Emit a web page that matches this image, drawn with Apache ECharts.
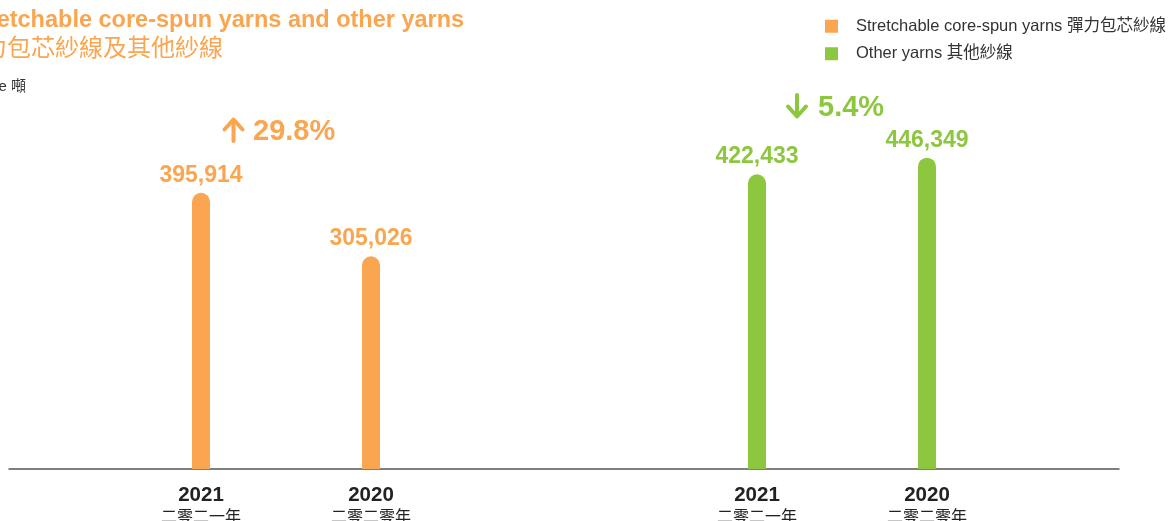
<!DOCTYPE html>
<html>
<head>
<meta charset="utf-8">
<script src="https://cdn.jsdelivr.net/npm/echarts@6/dist/echarts.min.js"></script>
<style>html,body{margin:0;padding:0;background:#fff}#c{width:1173px;height:521px}</style>
</head>
<body>
<div id="c"></div>
<script>
var years = ['2021', '2020'];
var yearsZh = ['二零二一年', '二零二零年'];
var seriesNames = ['Stretchable core-spun yarns 彈力包芯紗線', 'Other yarns 其他紗線'];
var stretchable = [395914, 305026];
var otherYarns = [422433, 446349];
var colors = ['#FAA54F', '#8DC63F'];
var yMax = 600000;

var LAT = '"Liberation Sans", Arial, sans-serif';
var CJK = '"Liberation Sans", "Noto Sans CJK TC", sans-serif';

function pct(a, b) { return (a - b) / b * 100; }
var p1 = pct(stretchable[0], stretchable[1]);
var p2 = pct(otherYarns[0], otherYarns[1]);

function catLabels(i) { return '{y|' + years[i] + '}\n{c|' + yearsZh[i] + '}'; }

var gridTop = 50.5, gridBottom = 52;
function xAxisCfg(idx) {
  return {
    type: 'category', gridIndex: idx, data: years,
    axisLine: { show: false }, axisTick: { show: false },
    axisLabel: {
      margin: 14,
      formatter: function (v, i) { return catLabels(i); },
      rich: {
        y: { fontFamily: LAT, fontWeight: 'bold', fontSize: 20.5, color: '#222', lineHeight: 24 },
        c: { fontFamily: CJK, fontSize: 16, color: '#222', lineHeight: 22 }
      }
    }
  };
}
function yAxisCfg(idx) {
  return { type: 'value', gridIndex: idx, min: 0, max: yMax, show: false, splitLine: { show: false } };
}
function barSeries(name, data, color, idx) {
  return {
    name: name, type: 'bar', xAxisIndex: idx, yAxisIndex: idx, data: data,
    barWidth: 18,
    itemStyle: { color: color, borderRadius: [9, 9, 0, 0] },
    label: {
      show: true, position: 'top', distance: 6, color: color,
      fontFamily: LAT, fontWeight: 'bold', fontSize: 23,
      formatter: function (p) { return p.value.toLocaleString('en-US'); }
    }
  };
}
function arrow(cx, yTop, yBot, up, color) {
  var tipY = up ? yTop : yBot;
  var headY = up ? yTop + 10 : yBot - 10;
  return {
    type: 'group', children: [
      { type: 'line', shape: { x1: cx, y1: yTop + (up ? 1 : 0), x2: cx, y2: yBot - (up ? 0 : 1) }, style: { stroke: color, lineWidth: 4, lineCap: 'round' } },
      { type: 'polyline', shape: { points: [[cx - 9, headY], [cx, tipY], [cx + 9, headY]] }, style: { stroke: color, lineWidth: 4, lineCap: 'round', lineJoin: 'round', fill: null } }
    ]
  };
}

var chart = echarts.init(document.getElementById('c'), null, { renderer: 'canvas' });
chart.setOption({
  animation: false,
  backgroundColor: '#fff',
  grid: [
    { left: 116, width: 340, top: gridTop, bottom: gridBottom, outerBoundsMode: 'none' },
    { left: 672, width: 340, top: gridTop, bottom: gridBottom, outerBoundsMode: 'none' },
    { left: 9, right: 54, top: gridTop, bottom: gridBottom, outerBoundsMode: 'none' }
  ],
  xAxis: [
    xAxisCfg(0), xAxisCfg(1),
    { type: 'value', gridIndex: 2, min: 0, max: 1, axisLabel: { show: false }, axisTick: { show: false },
      splitLine: { show: false }, axisLine: { show: true, lineStyle: { color: '#555', width: 1.5 } } }
  ],
  yAxis: [yAxisCfg(0), yAxisCfg(1), yAxisCfg(2)],
  legend: {
    orient: 'vertical', left: 820, top: 13, itemWidth: 13, itemHeight: 13, itemGap: 11,
    icon: 'rect',
    data: seriesNames,
    textStyle: { fontFamily: CJK, fontSize: 16.5, color: '#333', padding: [0, 0, 0, 13] }
  },
  series: [
    barSeries(seriesNames[0], stretchable, colors[0], 0),
    barSeries(seriesNames[1], otherYarns, colors[1], 1)
  ],
  graphic: [
    { type: 'text', left: -36, top: 9, style: { text: 'Stretchable core-spun yarns and other yarns', font: 'bold 23.5px ' + LAT, fill: colors[0] } },
    { type: 'text', left: -41, top: 35, style: { text: '彈力包芯紗線及其他紗線', font: '24px "Noto Sans CJK TC", sans-serif', fill: colors[0] } },
    { type: 'text', left: -34, top: 79, style: { text: 'Tonne 噸', font: '15px ' + CJK, fill: '#333' } },
    arrow(233.5, 119.5, 141, p1 >= 0, colors[0]),
    { type: 'text', left: 253, top: 117, style: { text: Math.abs(p1).toFixed(1) + '%', font: 'bold 29px ' + LAT, fill: colors[0] } },
    arrow(797, 95, 116.5, p2 >= 0, colors[1]),
    { type: 'text', left: 818, top: 93.5, style: { text: Math.abs(p2).toFixed(1) + '%', font: 'bold 29px ' + LAT, fill: colors[1] } }
  ]
});
</script>
</body>
</html>
